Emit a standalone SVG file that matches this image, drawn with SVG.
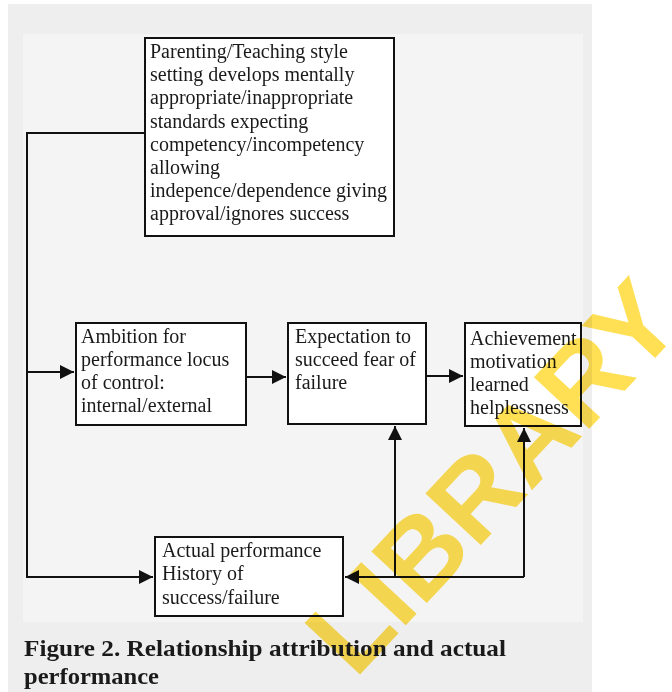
<svg xmlns="http://www.w3.org/2000/svg" width="672" height="692" viewBox="0 0 672 692">
<style>
.box{fill:#ffffff;stroke:#111111;stroke-width:2}
.t{font-family:"Liberation Serif",serif;font-size:20px;fill:#1a1a1a}
.cap{font-family:"Liberation Serif",serif;font-size:24px;font-weight:bold;fill:#1a1a1a}
.ln{fill:none;stroke:#111111;stroke-width:2}
.wm{font-family:"Liberation Sans",sans-serif;font-weight:bold;font-size:110px;fill:#ffdc40;opacity:0.9;mix-blend-mode:multiply}
</style>
<defs>
<marker id="ah" markerUnits="userSpaceOnUse" markerWidth="16" markerHeight="16" refX="14" refY="7" orient="auto">
<path d="M0,0 L14,7 L0,14 Z" fill="#111111"/>
</marker>
</defs>
<rect x="0" y="0" width="672" height="692" fill="#ffffff"/>
<rect x="8" y="4" width="584" height="688" fill="#eeeeee"/>
<rect x="23" y="34" width="560" height="588" fill="#f4f4f4"/>

<g id="connectors">
<polyline class="ln" points="145,133 27,133 27,577 153,577" marker-end="url(#ah)"/>
<line class="ln" x1="27" y1="372" x2="74" y2="372" marker-end="url(#ah)"/>
<line class="ln" x1="246" y1="377" x2="286" y2="377" marker-end="url(#ah)"/>
<line class="ln" x1="426" y1="376" x2="463" y2="376" marker-end="url(#ah)"/>
<line class="ln" x1="395" y1="577" x2="395" y2="426" marker-end="url(#ah)"/>
<line class="ln" x1="524" y1="577" x2="524" y2="428" marker-end="url(#ah)"/>
<line class="ln" x1="524" y1="577" x2="345" y2="577" marker-end="url(#ah)"/>
</g>

<g id="parenting">
<rect class="box" x="145" y="38" width="249" height="198"/>
<text class="t" x="150" y="58">Parenting/Teaching style</text>
<text class="t" x="150" y="81">setting develops mentally</text>
<text class="t" x="150" y="104">appropriate/inappropriate</text>
<text class="t" x="150" y="128">standards expecting</text>
<text class="t" x="150" y="151">competency/incompetency</text>
<text class="t" x="150" y="174">allowing</text>
<text class="t" x="150" y="197">indepence/dependence giving</text>
<text class="t" x="150" y="220">approval/ignores success</text>
</g>

<g id="ambition">
<rect class="box" x="76" y="323" width="170" height="102"/>
<text class="t" x="81" y="343">Ambition for</text>
<text class="t" x="81" y="366">performance locus</text>
<text class="t" x="81" y="389">of control:</text>
<text class="t" x="81" y="412">internal/external</text>
</g>

<g id="expectation">
<rect class="box" x="288" y="323" width="138" height="101"/>
<text class="t" x="295" y="343">Expectation to</text>
<text class="t" x="295" y="366">succeed fear of</text>
<text class="t" x="295" y="389">failure</text>
</g>

<g id="achievement">
<rect class="box" x="465" y="323" width="116" height="103"/>
<text class="t" x="470" y="345">Achievement</text>
<text class="t" x="470" y="368">motivation</text>
<text class="t" x="470" y="391">learned</text>
<text class="t" x="470" y="414">helplessness</text>
</g>

<g id="actual">
<rect class="box" x="155" y="537" width="188" height="79"/>
<text class="t" x="162" y="557">Actual performance</text>
<text class="t" x="162" y="580">History of</text>
<text class="t" x="162" y="604">success/failure</text>
</g>

<text class="wm" x="0" y="0" transform="translate(355,680) rotate(-47)">LIBRARY</text>

<g id="caption">
<text class="cap" x="24" y="656" textLength="482" lengthAdjust="spacingAndGlyphs">Figure 2. Relationship attribution and actual</text>
<text class="cap" x="24" y="684" textLength="135" lengthAdjust="spacingAndGlyphs">performance</text>
</g>
</svg>
